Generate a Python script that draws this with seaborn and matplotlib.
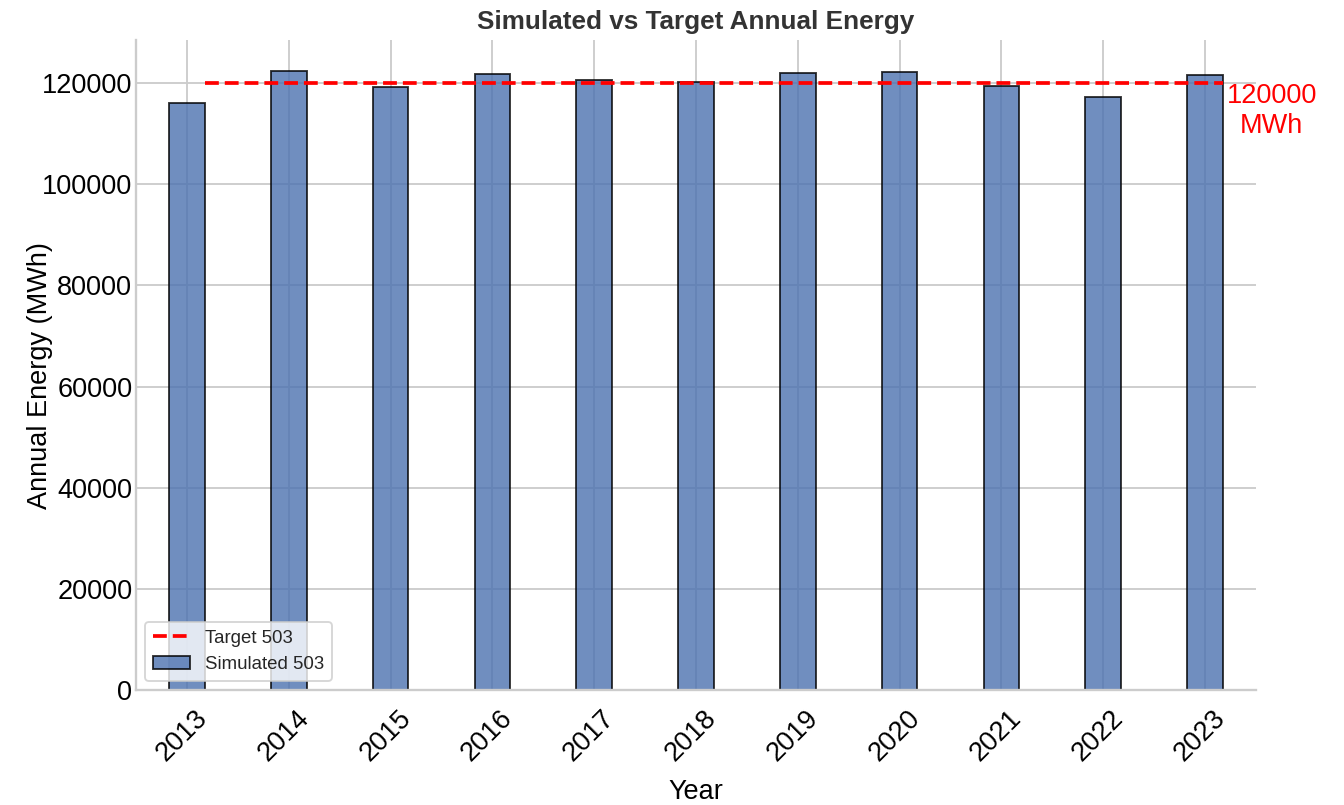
import numpy as np
import seaborn as sns
import matplotlib.pyplot as plt
from matplotlib.transforms import ScaledTranslation

# annual energy per year
years = ['2013', '2014', '2015', '2016', '2017', '2018', '2019', '2020', '2021', '2022', '2023']
simulated = [116000, 122400, 119300, 121800, 120650, 120200, 122050, 122100, 119500, 117300, 121650]
target = 120000
bar_width = 0.35

sns.set_theme(style="whitegrid")
plt.rcParams['font.family'] = ['Liberation Sans', 'DejaVu Sans']

fig, ax = plt.subplots(figsize=(10, 805 / 134.4), dpi=134.4)
fig.subplots_adjust(left=136 / 1344, right=1256 / 1344, top=1 - 40 / 805, bottom=1 - 690 / 805)

# bars
sns.barplot(x=years, y=simulated, width=bar_width, color='#4c72b0', saturation=1,
            alpha=0.8, edgecolor='black', linewidth=1, label='Simulated 503', ax=ax)

# target line runs between the right edges of the first and last bar
pos = np.arange(len(years))
line_x = [pos[0] + bar_width / 2, pos[-1] + bar_width / 2]
ax.plot(line_x, [target, target], color='red', linestyle='--', linewidth=2, label='Target 503')
ax.annotate(f'{target}\nMWh', xy=(line_x[-1], target), xytext=(2, 0), textcoords='offset points',
            ha='left', va='top', multialignment='center', color='red', fontsize=14.5)

ax.set_xlim(-0.5, len(years) - 0.5)
ax.xaxis.grid(True)
ax.set_axisbelow(True)

ax.set_title('Simulated vs Target Annual Energy', fontsize=14, fontweight='bold', color='#333333')
ax.set_xlabel('Year', fontsize=14.5, color='black', labelpad=7)
ax.set_ylabel('Annual Energy (MWh)', fontsize=14.5, color='black')
ax.yaxis.set_label_coords(-0.074, 0.483)
ax.tick_params(axis='both', labelsize=14.5, labelcolor='black')
ax.tick_params(axis='y', length=0, pad=2)
ax.tick_params(axis='x', length=0, pad=8)

# rotated year labels sit a little left of their ticks
shift = ScaledTranslation(-5 / 134.4, 0, fig.dpi_scale_trans)
for lbl in ax.get_xticklabels():
    lbl.set_rotation(45)
    lbl.set_transform(lbl.get_transform() + shift)
sns.despine(ax=ax)

handles, labels = ax.get_legend_handles_labels()
order = [labels.index('Target 503'), labels.index('Simulated 503')]
ax.legend([handles[i] for i in order], [labels[i] for i in order], loc='lower left', fontsize=10)

fig.savefig('out.png', dpi=134.4)
